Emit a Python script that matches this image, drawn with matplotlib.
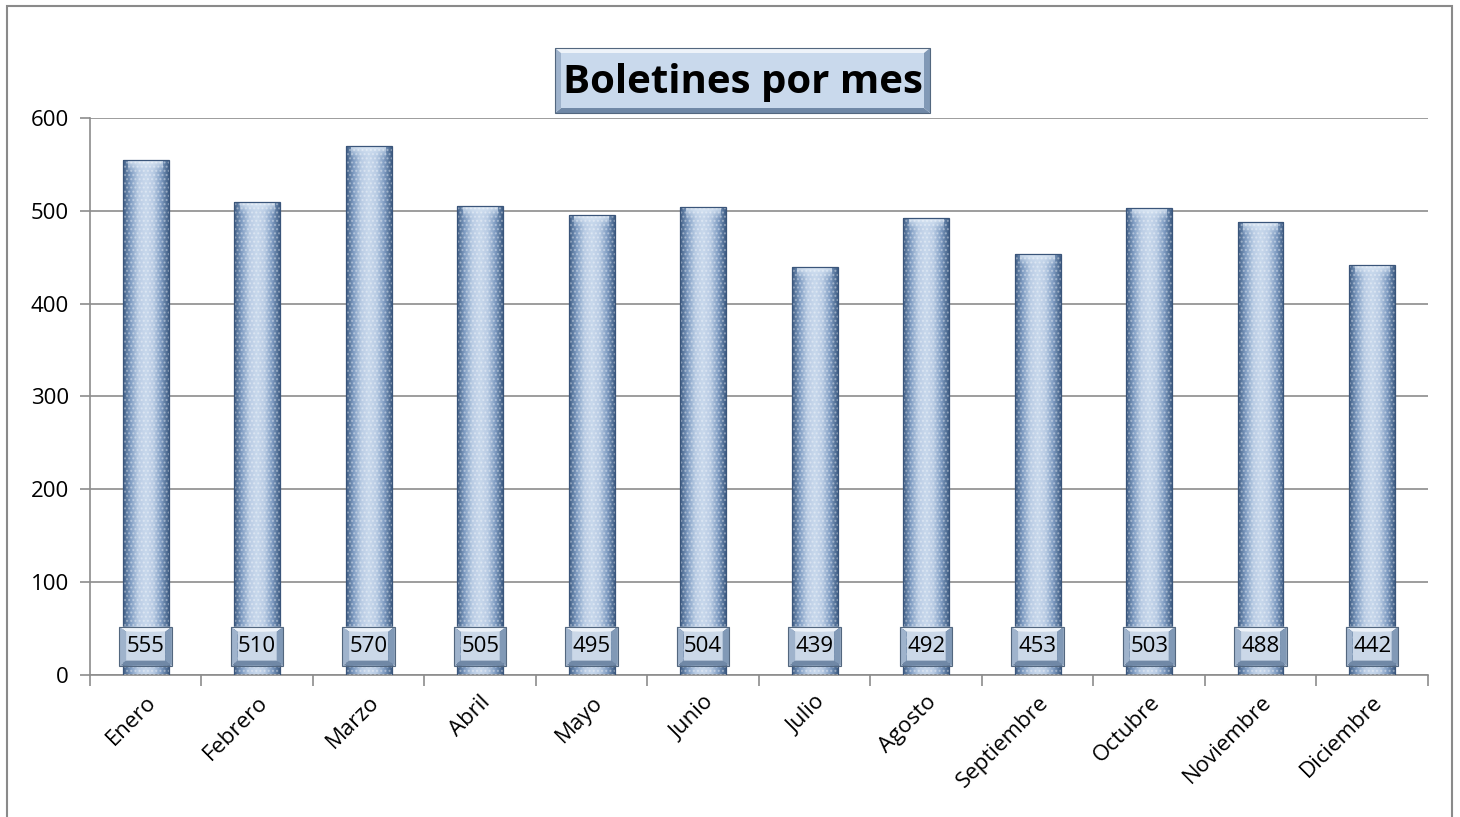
import matplotlib.pyplot as plt
import numpy as np
from matplotlib.colors import LinearSegmentedColormap
from matplotlib.patches import Polygon, Rectangle

plt.rcParams["font.family"] = ["Open Sans", "DejaVu Sans"]

months = ["Enero", "Febrero", "Marzo", "Abril", "Mayo", "Junio", "Julio",
          "Agosto", "Septiembre", "Octubre", "Noviembre", "Diciembre"]
boletines = [555, 510, 570, 505, 495, 504, 439, 492, 453, 503, 488, 442]
y_ticks = [0, 100, 200, 300, 400, 500, 600]

GRID = "#8c8c8c"
bar_cmap = LinearSegmentedColormap.from_list(
    "barra", ["#3f5d84", "#7f9cc2", "#b9cce4", "#c8d8ec", "#b9cce4", "#7f9cc2", "#3f5d84"])


def bevel_box(target, x0, y0, x1, y1, dx, dy, transform, face="#cbd8e8"):
    """Rectangle with a light top and darker bevelled sides."""
    ix0, iy0, ix1, iy1 = x0 + dx, y0 + dy, x1 - dx, y1 - dy
    sides = [
        ([(x0, y1), (x1, y1), (ix1, iy1), (ix0, iy1)], "#eef3f9"),   # top
        ([(x0, y0), (x1, y0), (ix1, iy0), (ix0, iy0)], "#7088a6"),   # bottom
        ([(x0, y0), (x0, y1), (ix0, iy1), (ix0, iy0)], "#9fb3cc"),   # left
        ([(x1, y0), (x1, y1), (ix1, iy1), (ix1, iy0)], "#8199b6"),   # right
    ]
    patches = [Rectangle((ix0, iy0), ix1 - ix0, iy1 - iy0, facecolor=face,
                         edgecolor="none")]
    patches += [Polygon(pts, closed=True, facecolor=col, edgecolor="none")
                for pts, col in sides]
    patches.append(Rectangle((x0, y0), x1 - x0, y1 - y0, facecolor="none",
                             edgecolor="#53677f", linewidth=0.8))
    for z, p in enumerate(patches):
        p.set_transform(transform)
        p.set_zorder(5 + 0.01 * z)
        p.set_clip_on(False)
        target.add_artist(p)


fig = plt.figure(figsize=(14.6, 8.17), dpi=100)
ax = fig.add_axes([0.0616, 0.1738, 0.9164, 0.6818])

x = np.arange(len(months))
width = 0.41
gradient = np.linspace(0, 1, 256).reshape(1, -1)
cap_cmap = LinearSegmentedColormap.from_list(
    "cap", [(0.72, 0.8, 0.9, 0.0), (0.9, 0.94, 0.98, 0.9)])

for xi, val in zip(x, boletines):
    left = xi - width / 2
    clip = Rectangle((left, 0), width, val, transform=ax.transData)
    im = ax.imshow(gradient, cmap=bar_cmap, aspect="auto", origin="lower",
                   extent=(left, left + width, 0, val), zorder=2)
    im.set_clip_path(clip)
    # lighter cap at the top of each bar
    cap = ax.imshow(np.linspace(0, 1, 64).reshape(-1, 1), cmap=cap_cmap,
                    aspect="auto", origin="lower",
                    extent=(left + 0.05, left + width - 0.05, val - 14, val - 1),
                    zorder=3)
    cap.set_clip_path(clip)

ax.bar(x, boletines, width=width, facecolor="none", edgecolor="#3a557a",
       linewidth=0.9, zorder=4)
ax.bar(x, boletines, width=width, facecolor="none", edgecolor=(1, 1, 1, 0.35),
       linewidth=0, hatch="....", zorder=3)

# value labels in bevelled boxes near the base of each bar
box_w, box_h, box_y = 0.47, 42, 10
for xi, val in zip(x, boletines):
    bevel_box(ax, xi - box_w / 2, box_y, xi + box_w / 2, box_y + box_h,
              0.06, 5.5, ax.transData)
    ax.text(xi, box_y + box_h / 2, str(val), ha="center", va="center",
            fontsize=16, color="black", zorder=7)

ax.set_xlim(-0.5, len(months) - 0.5)
ax.set_ylim(0, 600)
ax.set_yticks(y_ticks)
ax.set_yticklabels([str(t) for t in y_ticks], fontsize=16)
ax.yaxis.grid(True, color=GRID, linewidth=1.2, zorder=0)
ax.set_axisbelow(True)

ax.set_xticks(x)
ax.set_xticklabels(months, rotation=45, ha="right", rotation_mode="anchor",
                   fontsize=16)
ax.tick_params(axis="x", which="major", length=0, pad=12)
ax.set_xticks(np.arange(-0.5, len(months), 1), minor=True)
ax.tick_params(axis="x", which="minor", length=8, width=1.2, color=GRID)
ax.tick_params(axis="y", length=7, width=1.2, color=GRID, pad=8)

for side in ("top", "right"):
    ax.spines[side].set_visible(False)
for side in ("left", "bottom"):
    ax.spines[side].set_color(GRID)
    ax.spines[side].set_linewidth(1.2)

# title in a bevelled plate
bevel_box(fig, 555 / 1460, 1 - 113 / 817, 930 / 1460, 1 - 48 / 817,
          6 / 1460, 5 / 817, fig.transFigure, face="#c9d9ec")
fig.text(742.5 / 1460, 1 - 82 / 817, "Boletines por mes", ha="center",
         va="center", fontsize=29, fontweight="bold", zorder=7)

# outer chart frame
fig.patches.append(Rectangle((7 / 1460, -0.01), 1445 / 1460, 1 - 6 / 817 + 0.01,
                             transform=fig.transFigure, facecolor="none",
                             edgecolor="#8a8a8a", linewidth=1.5))

fig.savefig("out.png", dpi=100)
